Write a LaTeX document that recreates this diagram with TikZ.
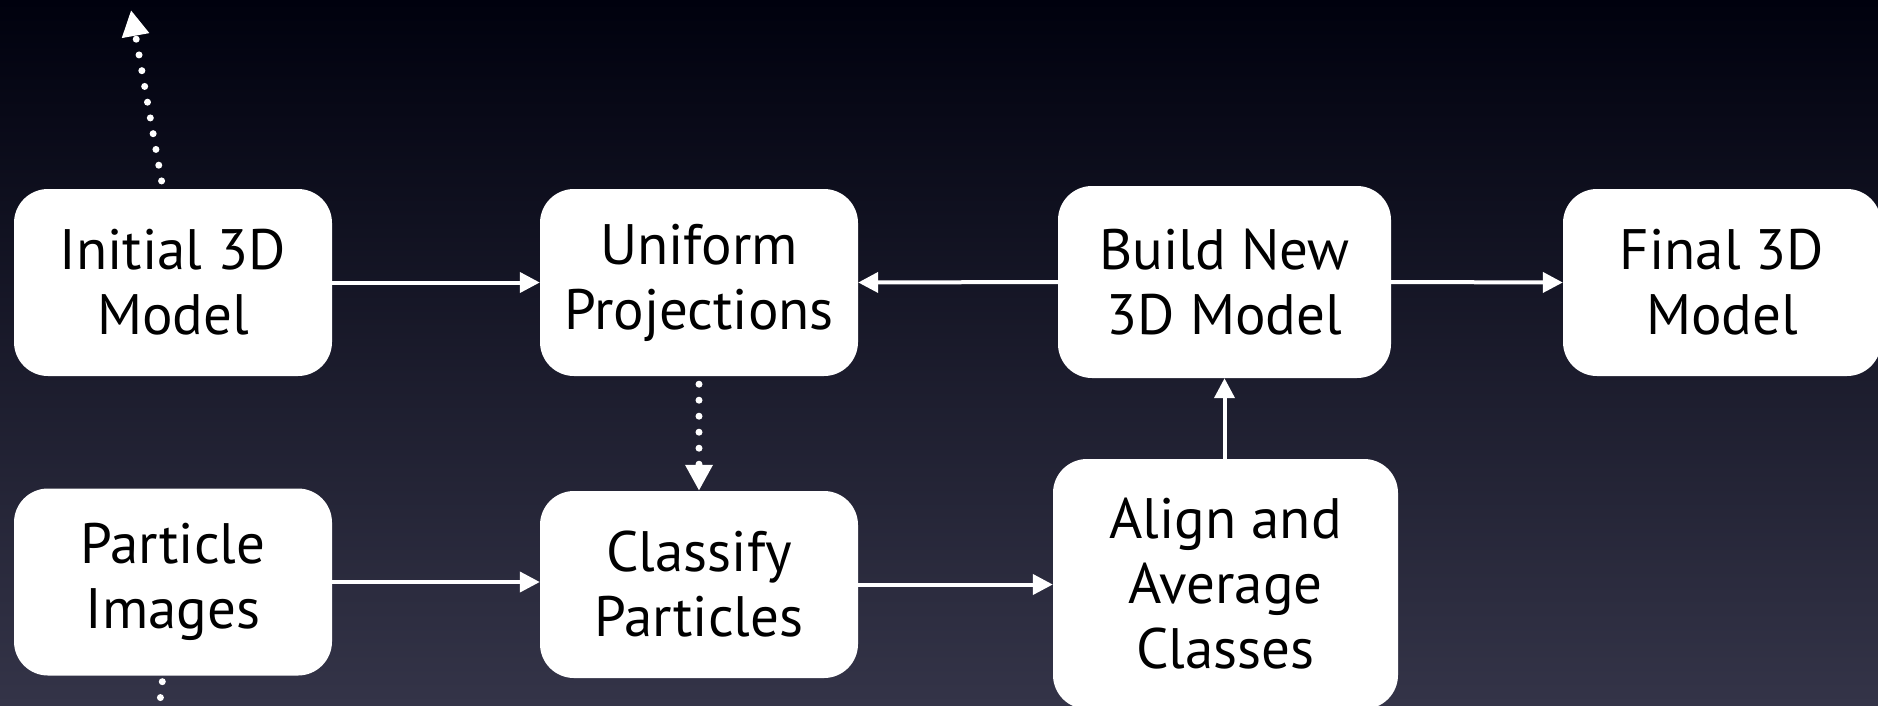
\documentclass[tikz,border=0pt]{standalone}
\usepackage{fontspec}
\setmainfont{PT Sans}
\usetikzlibrary{arrows.meta}
\definecolor{bgtop}{RGB}{0,1,14}
\definecolor{bgmid}{RGB}{17,18,40}
\definecolor{bgbot}{RGB}{52,52,72}
\begin{document}
\begin{tikzpicture}[x=1pt,y=-1pt,
  box/.style={fill=white, rounded corners=34pt, minimum width=318pt, minimum height=187pt,
    align=center, inner sep=0pt, text=black, font=\fontsize{57}{65}\selectfont},
  arr/.style={draw=white, line width=4pt, -{Triangle[length=20pt,width=20pt]}},
  dotarr/.style={draw=white, line width=7pt, line cap=round, dash pattern=on 0pt off 16pt,
    -{Triangle[length=26pt,width=26pt]}},
  dotline/.style={draw=white, line width=7pt, line cap=round, dash pattern=on 0pt off 16pt}]
\useasboundingbox (0,0) rectangle (1878,705);
\shade[top color=bgtop, middle color=bgmid, bottom color=bgbot] (0,0) rectangle (1878,705);

\node[box] (init) at (173,282.5) {Initial 3D\\Model};
\node[box] (unif) at (699,282.5) {Uniform\\Projections};
\node[box, minimum width=333pt, minimum height=192pt] (build) at (1224.5,282) {Build New\\3D Model};
\node[box] (final) at (1722,282.5) {Final 3D\\Model};
\node[box] (part) at (173,582) {Particle\\Images};
\node[box] (class) at (699,584.5) {Classify\\Particles};
\node[box, minimum width=345pt, minimum height=250pt] (align) at (1225.5,584) {Align and\\Average\\Classes};

\coordinate (ptop) at (131,10);
\coordinate (pbot) at (156,735);

\draw[arr] (init.east) -- (unif.west);
\draw[arr] (build.west) -- (unif.east);
\draw[arr] (build.east) -- (final.west);
\draw[arr] (part.east) -- (part.east -| class.west);
\draw[arr] (class.east) -- (class.east -| align.west);
\draw[arr] (align.north -| build.south) -- (build.south);
\draw[dotarr, shorten <=8pt] (unif.south) -- (class.north);
\draw[dotarr, shorten <=8pt] ([xshift=-10pt]init.north) -- (ptop);
\draw[dotline, shorten <=6pt] ([xshift=-10pt]part.south) -- (pbot);
\end{tikzpicture}
\end{document}
